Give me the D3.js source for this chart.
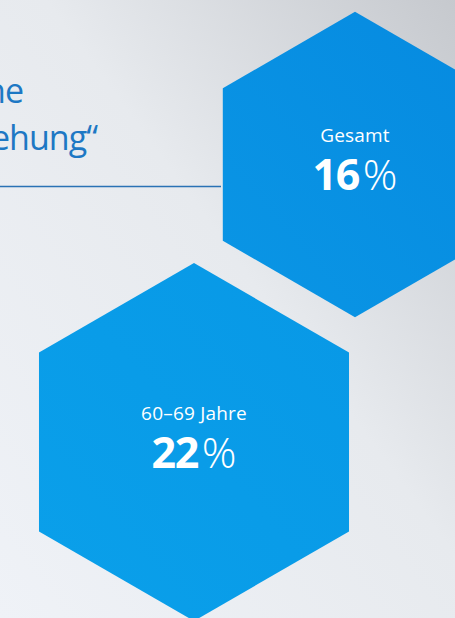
<!DOCTYPE html>
<html>
<head>
<meta charset="utf-8">
<script src="https://cdn.jsdelivr.net/npm/d3@7"></script>
<style>
  html, body { margin: 0; padding: 0; overflow: hidden; }
  body { width: 455px; height: 618px; }
  text { font-family: "Open Sans", "Noto Sans", sans-serif; }
</style>
</head>
<body>
<div id="chart"></div>
<script>
// data
var labels = ["Gesamt", "60–69 Jahre"];
var values = [16, 22];
var headLines = ["ne", "ehung“"];

var width = 455;
var height = 618;

var svg = d3.select("#chart")
    .append("svg")
    .attr("width", width)
    .attr("height", height);

var defs = svg.append("defs");

// background gradient
var bg = defs.append("linearGradient")
    .attr("id", "bg")
    .attr("x1", 0).attr("y1", 1)
    .attr("x2", 1).attr("y2", 0);
bg.append("stop").attr("offset", 0).attr("stop-color", "#eff2f7");
bg.append("stop").attr("offset", 0.55).attr("stop-color", "#e7eaee");
bg.append("stop").attr("offset", 1).attr("stop-color", "#c6c9ce");

svg.append("rect")
    .attr("width", width)
    .attr("height", height)
    .attr("fill", "url(#bg)");

// hexagon fills
var hexColors = [["#0a96e5", "#068ae0"], ["#0aa0ea", "#0898e6"]];
hexColors.forEach(function(c, i) {
    var g = defs.append("linearGradient")
        .attr("id", "hx" + i)
        .attr("x1", 0).attr("y1", 1)
        .attr("x2", 1).attr("y2", 0);
    g.append("stop").attr("offset", 0).attr("stop-color", c[0]);
    g.append("stop").attr("offset", 1).attr("stop-color", c[1]);
});

// heading fragments (cut off at left edge)
var head = svg.append("g").attr("fill", "#1d78c4");
head.append("text")
    .attr("x", 23).attr("y", 103)
    .attr("text-anchor", "end")
    .attr("font-size", 34)
    .attr("letter-spacing", -1)
    .text(headLines[0]);
head.append("text")
    .attr("x", 97).attr("y", 150)
    .attr("text-anchor", "end")
    .attr("font-size", 34)
    .attr("letter-spacing", -1)
    .text(headLines[1]);

svg.append("line")
    .attr("x1", 0).attr("x2", 221)
    .attr("y1", 186.5).attr("y2", 186.5)
    .attr("stroke", "#2a72b5")
    .attr("stroke-width", 1.5);

// size by area: radius from sqrt scale
var rScale = d3.scaleSqrt().domain([0, 22]).range([0, 179]);
var centers = [[355, 164.5], [194, 442]];

var hexLine = d3.line();
function hexPoints(r) {
    return d3.range(6).map(function(k) {
        var a = (Math.PI / 3) * k - Math.PI / 2;
        return [r * Math.cos(a), r * Math.sin(a)];
    });
}

var hexes = svg.selectAll("g.hex")
    .data(values)
    .enter()
    .append("g")
    .attr("class", "hex")
    .attr("transform", function(d, i) {
        return "translate(" + centers[i][0] + "," + centers[i][1] + ")";
    });

hexes.append("path")
    .attr("d", function(d) { return hexLine(hexPoints(rScale(d))) + "Z"; })
    .attr("fill", function(d, i) { return "url(#hx" + i + ")"; });

hexes.append("text")
    .attr("y", -22.5)
    .attr("text-anchor", "middle")
    .attr("fill", "#ffffff")
    .attr("font-size", 19)
    .attr("letter-spacing", 0.2)
    .text(function(d, i) { return labels[i]; });

var big = hexes.append("text")
    .attr("y", 25.5)
    .attr("text-anchor", "middle")
    .attr("fill", "#ffffff")
    .attr("font-size", 43);

big.append("tspan")
    .attr("font-weight", 700)
    .attr("letter-spacing", -1.5)
    .text(function(d) { return d; });
big.append("tspan")
    .attr("dx", 4)
    .attr("font-weight", 300)
    .text("%");
</script>
</body>
</html>
